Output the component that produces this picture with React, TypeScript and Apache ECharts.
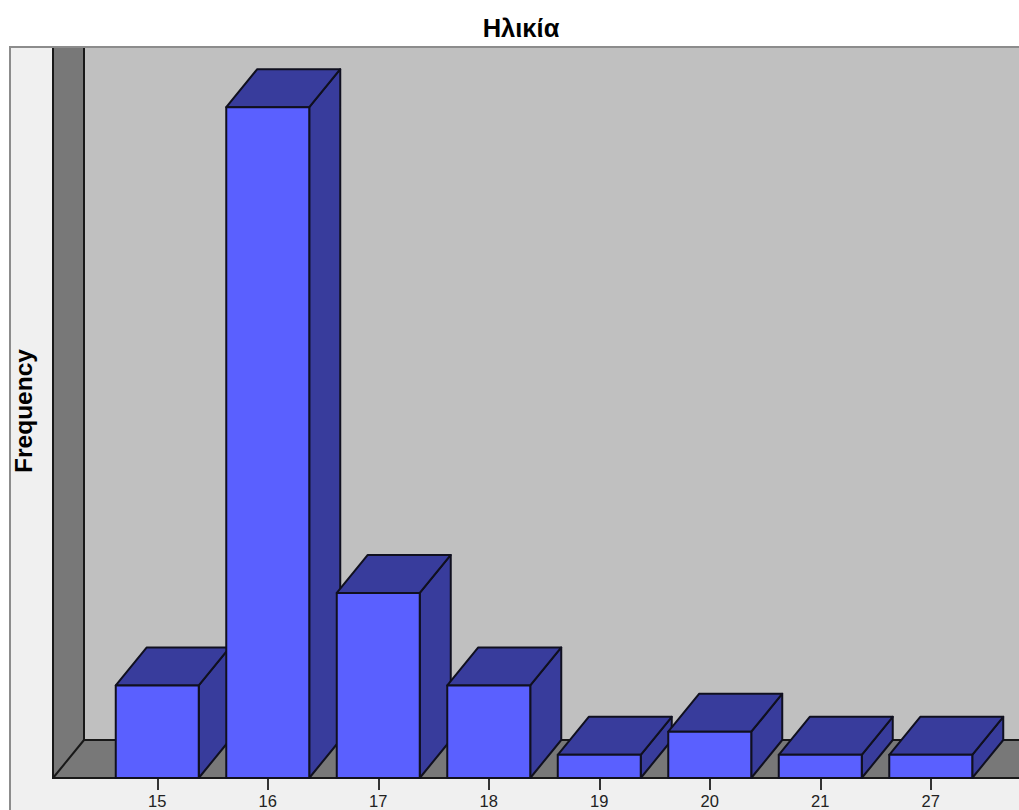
import React, { useEffect, useRef } from "react";
import * as echarts from "echarts";

const ages = ["15", "16", "17", "18", "19", "20", "21", "27"];
const frequencies = [4, 29, 8, 4, 1, 2, 1, 1];
const yMax = 30;

const DEPTH_X = 31;
const DEPTH_Y = 38;
const BAR_FRACTION = 0.751;
const EDGE = "#10101f";
const FRONT = "#5a60ff";
const SHADE = "#383c9c";
const WALL_EDGE = "#181818";

function renderBar(_params: any, api: any) {
  const [cx, top] = api.coord([api.value(0), api.value(1)]);
  const [, base] = api.coord([api.value(0), 0]);
  const w = api.size([1, 0])[0] * BAR_FRACTION;
  const l = cx - w / 2;
  const r = cx + w / 2;
  const style = { stroke: EDGE, lineWidth: 2, lineJoin: "round" };
  return {
    type: "group",
    children: [
      {
        type: "polygon",
        shape: { points: [[r, base], [r + DEPTH_X, base - DEPTH_Y], [r + DEPTH_X, top - DEPTH_Y], [r, top]] },
        style: { ...style, fill: SHADE },
      },
      {
        type: "polygon",
        shape: { points: [[l, top], [l + DEPTH_X, top - DEPTH_Y], [r + DEPTH_X, top - DEPTH_Y], [r, top]] },
        style: { ...style, fill: SHADE },
      },
      {
        type: "rect",
        shape: { x: l, y: top, width: w, height: base - top },
        style: { ...style, fill: FRONT },
      },
    ],
  };
}

export default function App() {
  const ref = useRef<HTMLDivElement>(null);
  useEffect(() => {
    document.body.style.margin = "0";
    document.body.style.overflow = "hidden";
    const chart = echarts.init(ref.current!, null, { renderer: "svg" });
    const line = { stroke: WALL_EDGE, lineWidth: 2 };
    chart.setOption({
      animation: false,
      backgroundColor: "#ffffff",
      title: {
        text: "Ηλικία",
        left: 516,
        top: 10,
        textAlign: "center",
        textStyle: { fontFamily: "Liberation Sans", fontSize: 25.5, fontWeight: "bold", color: "#000" },
      },
      graphic: [
        { type: "rect", z: 0, shape: { x: 10, y: 47, width: 1012, height: 770 }, style: { fill: "#f0f0f0", stroke: "#8c8c8c", lineWidth: 2 } },
        { type: "rect", z: 0, shape: { x: 84, y: 48, width: 940, height: 693 }, style: { fill: "#c0c0c0" } },
        { type: "polygon", z: 0, shape: { points: [[53, 48], [84, 48], [84, 740], [53, 778]] }, style: { fill: "#787878" } },
        { type: "polygon", z: 0, shape: { points: [[53, 778], [84, 740], [1022, 740], [1022, 778]] }, style: { fill: "#787878" } },
        { type: "line", z: 1, shape: { x1: 53, y1: 48, x2: 53, y2: 778 }, style: line },
        { type: "line", z: 1, shape: { x1: 84, y1: 48, x2: 84, y2: 740 }, style: line },
        { type: "line", z: 1, shape: { x1: 84, y1: 740, x2: 1022, y2: 740 }, style: line },
        { type: "line", z: 1, shape: { x1: 53, y1: 778, x2: 84, y2: 740 }, style: line },
        { type: "line", z: 1, shape: { x1: 52, y1: 778, x2: 1022, y2: 778 }, style: line },
      ],
      grid: { left: 102, width: 884, top: 84, height: 694, show: false },
      xAxis: {
        type: "category",
        data: ages,
        axisLine: { show: false },
        axisTick: { show: true, alignWithLabel: true, length: 12, lineStyle: { color: "#333", width: 2 } },
        axisLabel: { margin: 14, color: "#222", fontFamily: "Liberation Sans", fontSize: 16.5 },
      },
      yAxis: {
        type: "value",
        min: 0,
        max: yMax,
        name: "Frequency",
        nameLocation: "middle",
        nameGap: 66,
        nameRotate: 90,
        nameTextStyle: { fontFamily: "Liberation Sans", fontSize: 24.5, fontWeight: "bold", color: "#000", padding: [0, 0, 0, 40] },
        axisLine: { show: false },
        axisTick: { show: false },
        axisLabel: { show: false },
        splitLine: { show: false },
      },
      series: [
        {
          type: "custom",
          z: 2,
          clip: false,
          renderItem: renderBar,
          encode: { x: 0, y: 1 },
          data: frequencies.map((f, i) => [i, f]),
        },
      ],
    });
    return () => chart.dispose();
  }, []);
  return <div ref={ref} style={{ width: 1019, height: 810 }} />;
}
